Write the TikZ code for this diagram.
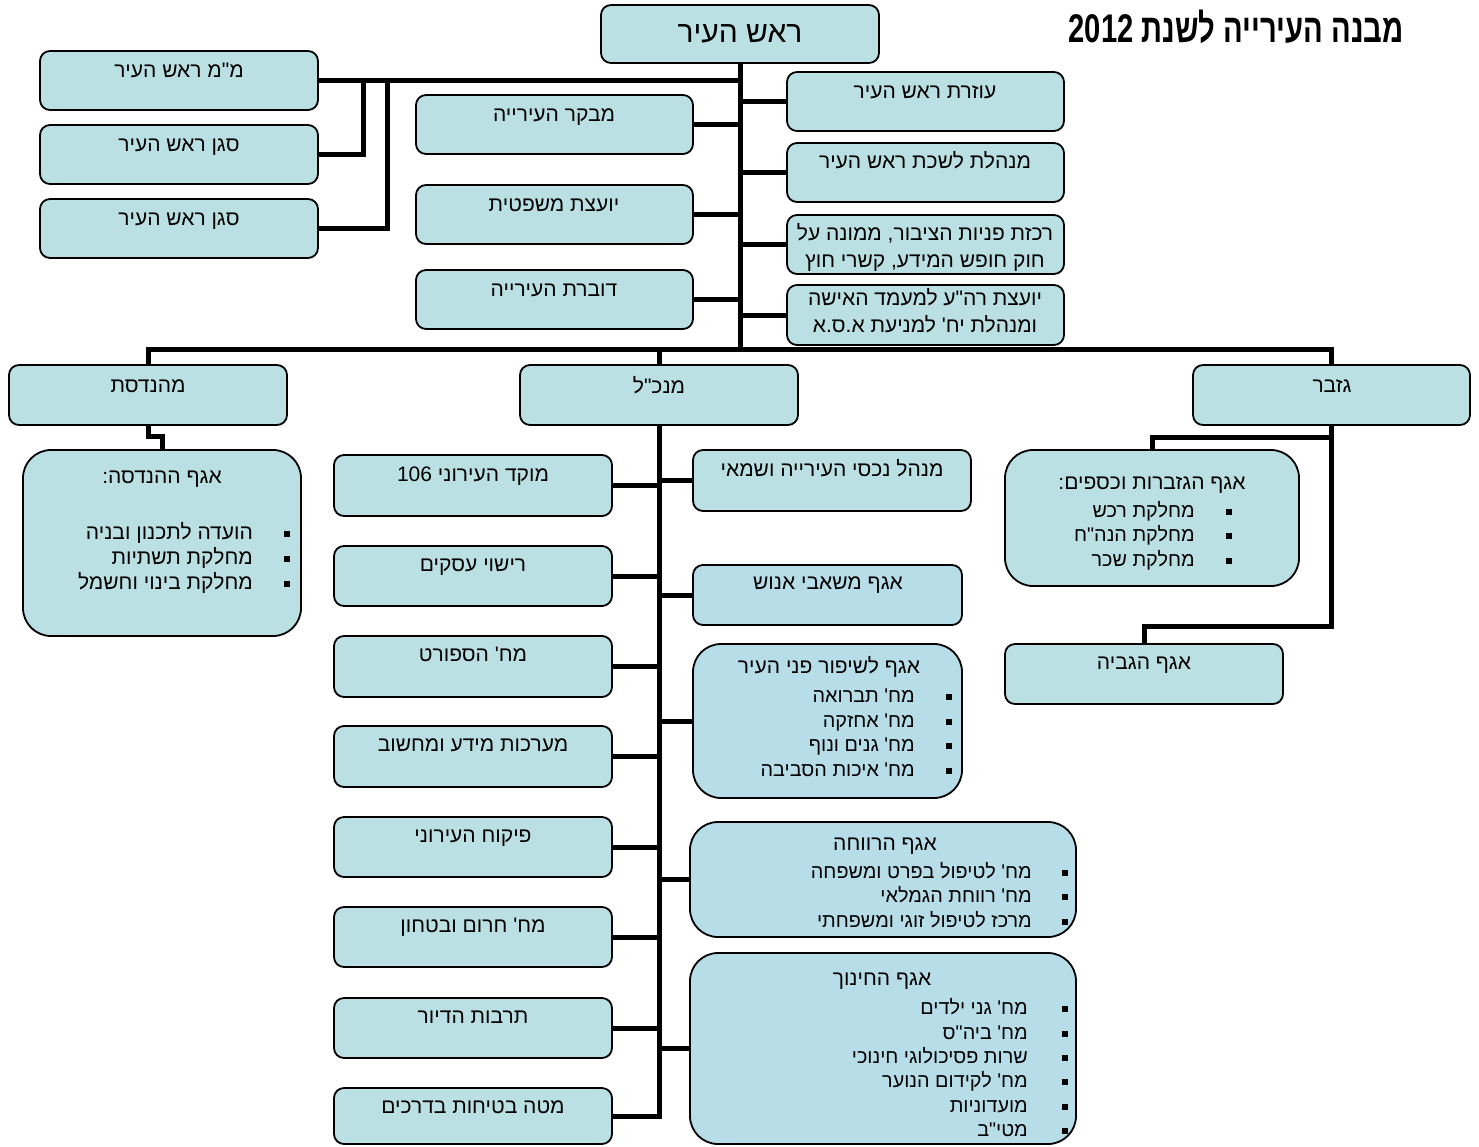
\documentclass[tikz,border=0pt]{standalone}
\usepackage{fontspec}
\usepackage{graphicx}
\TeXXeTstate=1
\newfontfamily\he[Script=Hebrew,Ligatures=TeXOff]{Liberation Sans}
\newcommand\HE[1]{\beginR #1\endR}
\definecolor{boxfill}{RGB}{187,224,227}
\definecolor{boxfillb}{RGB}{183,221,232}
\pgfdeclarelayer{bg}
\pgfsetlayers{bg,main}
\newcommand\bx[6]{\node[#6, minimum width={#4-#2}, minimum height={#5-#3}] (#1) at ({(#2+#4)/2},{(#3+#5)/2}) {};}
\tikzset{
  box/.style={draw=black, line width=1.8pt, fill=boxfill, rounded corners=10pt, inner sep=0pt, outer sep=0pt},
  boxb/.style={box, fill=boxfillb},
  bigbox/.style={box, rounded corners=28pt},
  bigboxb/.style={boxb, rounded corners=28pt},
  conn/.style={line width=5pt, draw=black, line cap=rect, line join=miter},
  txt/.style={anchor=base, inner sep=0pt, font=\he\fontsize{21}{25}\selectfont},
  itm/.style={anchor=base east, inner sep=0pt, font=\he\fontsize{19.8}{24}\selectfont},
  itmbig/.style={itm, font=\he\fontsize{21}{25}\selectfont},
  bul/.style={fill=black, minimum size=6pt, inner sep=0pt, draw=none}
}
\begin{document}
\begin{tikzpicture}[x=1pt,y=-1pt]
\useasboundingbox (0,0) rectangle (1479,1146);
% boxes
\bx{mayor}{601}{5}{879}{63}{box}
\bx{mm}{40}{51}{318}{110}{box}
\bx{sgan1}{40}{125}{318}{184}{box}
\bx{sgan2}{40}{199}{318}{258}{box}
\bx{mevaker}{416}{95}{693}{154}{box}
\bx{yoetzet}{416}{185}{693}{244}{box}
\bx{doveret}{416}{270}{693}{329}{box}
\bx{ozeret}{787}{72}{1064}{131}{box}
\bx{lishka}{787}{143}{1064}{202}{box}
\bx{rakezet}{787}{215}{1064}{274}{box}
\bx{maamad}{787}{285}{1064}{345}{box}
\bx{eng}{9}{365}{287}{425}{box}
\bx{mankal}{520}{365}{798}{425}{box}
\bx{gizbar}{1193}{365}{1470}{425}{box}
\bx{engdept}{23}{450}{301}{636}{bigbox}
\bx{gizdept}{1005}{450}{1299}{586}{bigbox}
\bx{gviya}{1005}{644}{1283}{704}{box}
\bx{moked}{334}{455}{612}{516}{box}
\bx{rishui}{334}{546}{612}{606}{box}
\bx{sport}{334}{636}{612}{697}{box}
\bx{maarachot}{334}{726}{612}{787}{box}
\bx{pikuach}{334}{817}{612}{877}{box}
\bx{cherum}{334}{907}{612}{967}{box}
\bx{tarbut}{334}{998}{612}{1058}{box}
\bx{mate}{334}{1088}{612}{1144}{box}
\bx{nechasim}{693}{450}{971}{511}{box}
\bx{mashabim}{693}{565}{962}{625}{boxb}
\bx{shipur}{693}{644}{962}{798}{bigboxb}
\bx{revacha}{690}{822}{1076}{937}{bigboxb}
\bx{chinuch}{690}{953}{1076}{1144}{bigboxb}
% title
\node[anchor=base east, inner sep=0pt] (title) at (1404,42) {\scalebox{0.73}[1]{\he\bfseries\fontsize{40}{44}\selectfont\HE{מבנה העירייה לשנת \beginL2012\endL}}};
% texts
\node[txt, font=\he\fontsize{30}{34}\selectfont] (t-mayor) at (740,42) {\HE{ראש העיר}};
\node[txt] (t-mm) at (179,77) {\HE{מ"מ ראש העיר}};
\node[txt] (t-sgan1) at (179,151) {\HE{סגן ראש העיר}};
\node[txt] (t-sgan2) at (179,225) {\HE{סגן ראש העיר}};
\node[txt] (t-mevaker) at (554,121) {\HE{מבקר העירייה}};
\node[txt] (t-yoetzet) at (554,211) {\HE{יועצת משפטית}};
\node[txt] (t-doveret) at (554,296) {\HE{דוברת העירייה}};
\node[txt] (t-ozeret) at (925,98) {\HE{עוזרת ראש העיר}};
\node[txt] (t-lishka) at (925,168) {\HE{מנהלת לשכת ראש העיר}};
\node[txt] (t-rakezet1) at (925,240) {\HE{רכזת פניות הציבור, ממונה על}};
\node[txt] (t-rakezet2) at (925,267) {\HE{חוק חופש המידע, קשרי חוץ}};
\node[txt] (t-maamad1) at (925,305) {\HE{יועצת רה"ע למעמד האישה}};
\node[txt] (t-maamad2) at (925,332) {\HE{ומנהלת יח' למניעת א.ס.א}};
\node[txt] (t-eng) at (148,392) {\HE{מהנדסת}};
\node[txt] (t-mankal) at (659,393) {\HE{מנכ"ל}};
\node[txt] (t-gizbar) at (1332,392) {\HE{גזבר}};
% engineering dept
\node[txt] (t-engdept) at (162,483) {\HE{אגף ההנדסה:}};
\node[itmbig] (e1) at (253,539) {\HE{הועדה לתכנון ובניה}};
\node[itmbig] (e2) at (253,564) {\HE{מחלקת תשתיות}};
\node[itmbig] (e3) at (253,589) {\HE{מחלקת בינוי וחשמל}};
\foreach \y [count=\i] in {539,564,589} \node[bul] (eb\i) at (287,\y-5) {};
% treasury dept
\node[txt] (t-gizdept) at (1152,489) {\HE{אגף הגזברות וכספים:}};
\node[itm] (g1) at (1195,517) {\HE{מחלקת רכש}};
\node[itm] (g2) at (1195,541) {\HE{מחלקת הנה"ח}};
\node[itm] (g3) at (1195,566) {\HE{מחלקת שכר}};
\foreach \y [count=\i] in {517,541,566} \node[bul] (gb\i) at (1229,\y-5) {};
\node[txt] (t-gviya) at (1144,669) {\HE{אגף הגביה}};
% manager left
\node[txt] (t-moked) at (473,481) {\HE{מוקד העירוני \beginL106\endL}};
\node[txt] (t-rishui) at (473,571) {\HE{רישוי עסקים}};
\node[txt] (t-sport) at (473,661) {\HE{מח' הספורט}};
\node[txt] (t-maarachot) at (473,751) {\HE{מערכות מידע ומחשוב}};
\node[txt] (t-pikuach) at (473,842) {\HE{פיקוח העירוני}};
\node[txt] (t-cherum) at (473,932) {\HE{מח' חרום ובטחון}};
\node[txt] (t-tarbut) at (473,1023) {\HE{תרבות הדיור}};
\node[txt] (t-mate) at (473,1113) {\HE{מטה בטיחות בדרכים}};
% manager right
\node[txt] (t-nechasim) at (832,476) {\HE{מנהל נכסי העירייה ושמאי}};
\node[txt] (t-mashabim) at (828,589) {\HE{אגף משאבי אנוש}};
\node[txt] (t-shipur) at (829,673) {\HE{אגף לשיפור פני העיר}};
\node[itm] (s1) at (915,702) {\HE{מח' תברואה}};
\node[itm] (s2) at (915,727) {\HE{מח' אחזקה}};
\node[itm] (s3) at (915,751) {\HE{מח' גנים ונוף}};
\node[itm] (s4) at (915,776) {\HE{מח' איכות הסביבה}};
\foreach \y [count=\i] in {702,727,751,776} \node[bul] (sb\i) at (949,\y-5) {};
\node[txt] (t-revacha) at (885,850) {\HE{אגף הרווחה}};
\node[itm] (r1) at (1032,878) {\HE{מח' לטיפול בפרט ומשפחה}};
\node[itm] (r2) at (1032,902) {\HE{מח' רווחת הגמלאי}};
\node[itm] (r3) at (1032,927) {\HE{מרכז לטיפול זוגי ומשפחתי}};
\foreach \y [count=\i] in {878,902,927} \node[bul] (rb\i) at (1065,\y-5) {};
\node[txt] (t-chinuch) at (882,985) {\HE{אגף החינוך}};
\node[itm] (c1) at (1028,1014) {\HE{מח' גני ילדים}};
\node[itm] (c2) at (1028,1039) {\HE{מח' ביה"ס}};
\node[itm] (c3) at (1028,1063) {\HE{שרות פסיכולוגי חינוכי}};
\node[itm] (c4) at (1028,1087) {\HE{מח' לקידום הנוער}};
\node[itm] (c5) at (1028,1112) {\HE{מועדוניות}};
\node[itm] (c6) at (1028,1136) {\HE{מטי"ב}};
\foreach \y [count=\i] in {1014,1039,1063,1087,1112,1136} \node[bul] (cb\i) at (1065,\y-5) {};
% junction coordinates
\coordinate (bar) at (740,349);
\coordinate (j1) at (363,81);
\coordinate (j2) at (387,81);
\coordinate (engj) at (155,436);
\coordinate (gj1) at (1240,437);
\coordinate (gj2) at (1238,626);
% connectors
\begin{pgfonlayer}{bg}
\draw[conn] (mayor.south) -- (bar);
\draw[conn] (mm.east) -- (mm.east -| mayor.south);
\draw[conn] (sgan1.east) -| (j1);
\draw[conn] (sgan2.east) -| (j2);
\foreach \n in {mevaker,yoetzet,doveret} \draw[conn] (\n.east) -- (\n.east -| mayor.south);
\foreach \n in {ozeret,lishka,rakezet,maamad} \draw[conn] (\n.west) -- (\n.west -| mayor.south);
\draw[conn] (eng.north) |- (bar);
\draw[conn] (gizbar.north) |- (bar);
\draw[conn] (mankal.north) -- (mankal.north |- bar);
\draw[conn] (eng.south) |- (engj) -| (engdept.north);
\draw[conn] (gizbar.south) |- (gj2) -| (gviya.north);
\draw[conn] (gizbar.south |- gj1) -| (gizdept.north);
\draw[conn] (mankal.south) -- (mankal.south |- mate.east);
\foreach \n in {moked,rishui,sport,maarachot,pikuach,cherum,tarbut,mate} \draw[conn] (\n.east) -- (\n.east -| mankal.south);
\foreach \n in {nechasim,mashabim,shipur,revacha,chinuch} \draw[conn] (\n.west) -- (\n.west -| mankal.south);
\end{pgfonlayer}
\end{tikzpicture}
\end{document}
